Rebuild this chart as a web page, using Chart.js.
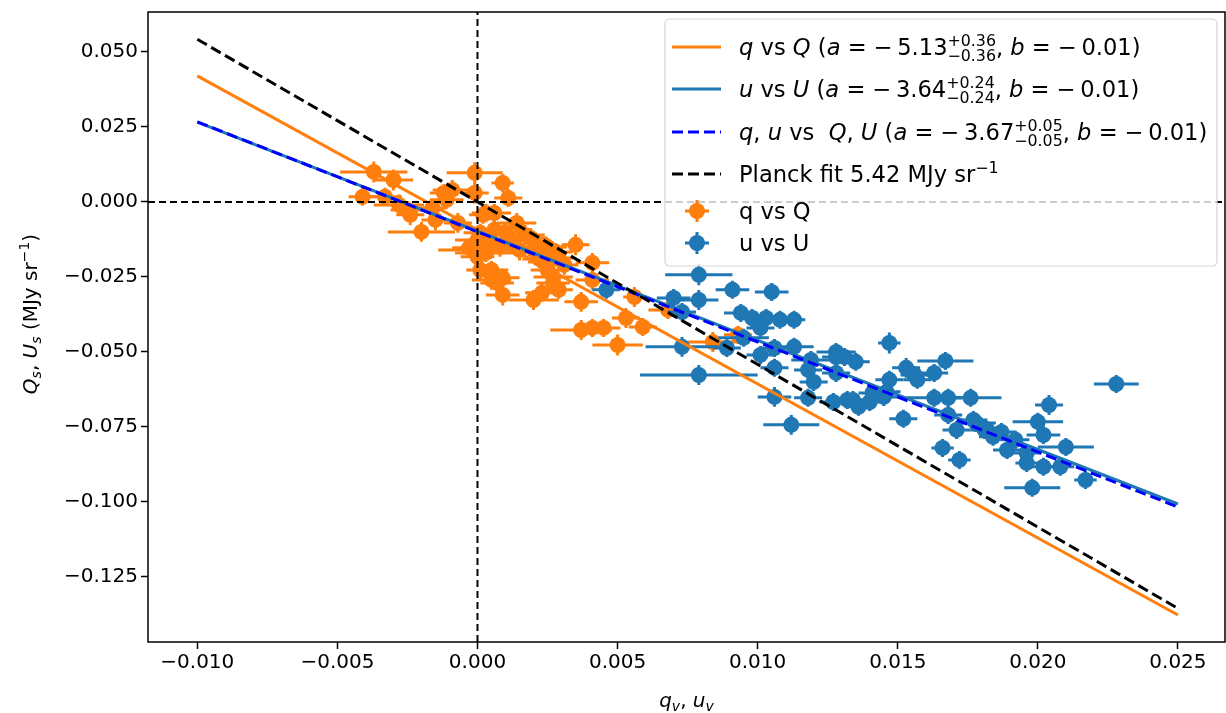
<!DOCTYPE html>
<html><head><meta charset="utf-8">
<script src="https://cdn.jsdelivr.net/npm/chart.js@4.4.1/dist/chart.umd.min.js"></script>
<style>html,body{margin:0;padding:0;background:#fff;overflow:hidden;}#wrap{width:1226px;height:713px;position:relative;}</style>
</head><body><div id="wrap"><canvas id="c"></canvas></div>
<script>
// ---- data: q vs Q (orange) ----
const orangeX = [-0.0037,-0.0030,-0.0041,-0.0033,-0.0028,-0.0025,-0.0024,-0.0020,-0.0016,-0.0015,-0.0009,-0.0011,-0.0007,-0.0001,-0.0001,0.0009,0.0011,0.0003,0.0006,0.0000,0.0003,0.0008,0.0014,0.0015,0.0000,0.0001,0.0006,0.0019,0.0025,0.0028,0.0035,0.0041,0.0005,0.0001,0.0009,0.0020,0.0023,0.0027,0.0027,0.0037,0.0041,0.0037,0.0041,0.0045,0.0050,0.0053,0.0059,0.0056,0.0068,0.0084,0.0093,-0.0012,0.0002,0.0020,0.0022,0.0025,0.0029,0.0007,0.0009,0.0005,0.0000,0.0002,-0.0003,0.0004,0.0010,0.0012,0.0017,0.0022,0.0029,0.0031,0.0024];
const orangeY = [0.0100,0.0073,0.0017,0.0017,-0.0010,-0.0027,-0.0043,-0.0100,-0.0020,-0.0060,0.0040,0.0007,-0.0070,0.0097,0.0030,0.0063,0.0013,-0.0037,-0.0037,-0.0160,-0.0170,-0.0150,-0.0070,-0.0160,-0.0183,-0.0103,-0.0093,-0.0120,-0.0150,-0.0167,-0.0143,-0.0203,-0.0260,-0.0227,-0.0310,-0.0327,-0.0303,-0.0250,-0.0270,-0.0333,-0.0260,-0.0427,-0.0420,-0.0420,-0.0477,-0.0387,-0.0417,-0.0317,-0.0360,-0.0467,-0.0443,0.0030,-0.0043,-0.0160,-0.0150,-0.0227,-0.0293,-0.0270,-0.0253,-0.0227,-0.0127,-0.0143,-0.0153,-0.0127,-0.0100,-0.0127,-0.0110,-0.0190,-0.0187,-0.0210,-0.0200];
const orangeXErr = [0.0012,0.0007,0.0005,0.0006,0.0009,0.0006,0.0005,0.0012,0.0005,0.0005,0.0007,0.0006,0.0005,0.0010,0.0005,0.0004,0.0005,0.0005,0.0006,0.0014,0.0011,0.0007,0.0007,0.0009,0.0006,0.0006,0.0006,0.0006,0.0007,0.0006,0.0005,0.0006,0.0007,0.0005,0.0006,0.0009,0.0006,0.0007,0.0006,0.0006,0.0006,0.0011,0.0006,0.0006,0.0009,0.0005,0.0005,0.0004,0.0007,0.0009,0.0005,0.0005,0.0005,0.0006,0.0006,0.0006,0.0005,0.0006,0.0006,0.0006,0.0008,0.0006,0.0006,0.0007,0.0005,0.0006,0.0007,0.0006,0.0005,0.0005,0.0006];
const orangeYErr = [0.0035,0.0035,0.0030,0.0030,0.0035,0.0030,0.0035,0.0033,0.0030,0.0035,0.0033,0.0030,0.0033,0.0035,0.0035,0.0030,0.0030,0.0030,0.0030,0.0033,0.0030,0.0033,0.0033,0.0035,0.0030,0.0030,0.0030,0.0033,0.0030,0.0030,0.0035,0.0033,0.0033,0.0030,0.0035,0.0033,0.0030,0.0033,0.0030,0.0033,0.0033,0.0033,0.0030,0.0030,0.0035,0.0033,0.0030,0.0033,0.0030,0.0033,0.0030,0.0030,0.0030,0.0030,0.0030,0.0030,0.0030,0.0030,0.0030,0.0030,0.0033,0.0030,0.0030,0.0033,0.0030,0.0030,0.0033,0.0030,0.0030,0.0033,0.0030];
// ---- data: u vs U (blue) ----
const blueX = [0.0046,0.0079,0.0091,0.0105,0.0070,0.0079,0.0073,0.0094,0.0098,0.0103,0.0108,0.0113,0.0101,0.0095,0.0089,0.0073,0.0106,0.0101,0.0113,0.0119,0.0128,0.0106,0.0118,0.0128,0.0079,0.0120,0.0106,0.0118,0.0127,0.0132,0.0112,0.0147,0.0135,0.0131,0.0153,0.0156,0.0157,0.0167,0.0163,0.0147,0.0146,0.0140,0.0145,0.0134,0.0141,0.0152,0.0163,0.0168,0.0176,0.0168,0.0166,0.0172,0.0177,0.0181,0.0184,0.0189,0.0204,0.0200,0.0202,0.0210,0.0196,0.0202,0.0208,0.0217,0.0198,0.0228,0.0196,0.0187,0.0192,0.0171,0.0182,0.0178,0.0128,0.0136];
const blueY = [-0.0293,-0.0243,-0.0293,-0.0300,-0.0320,-0.0327,-0.0367,-0.0370,-0.0387,-0.0387,-0.0393,-0.0393,-0.0420,-0.0453,-0.0487,-0.0483,-0.0487,-0.0510,-0.0483,-0.0527,-0.0500,-0.0553,-0.0560,-0.0570,-0.0577,-0.0600,-0.0650,-0.0653,-0.0667,-0.0660,-0.0743,-0.0470,-0.0533,-0.0517,-0.0553,-0.0577,-0.0593,-0.0530,-0.0570,-0.0593,-0.0633,-0.0667,-0.0650,-0.0660,-0.0637,-0.0723,-0.0653,-0.0653,-0.0653,-0.0710,-0.0820,-0.0860,-0.0727,-0.0760,-0.0783,-0.0827,-0.0677,-0.0733,-0.0777,-0.0817,-0.0870,-0.0883,-0.0883,-0.0927,-0.0953,-0.0607,-0.0837,-0.0767,-0.0793,-0.0760,-0.0760,-0.0737,-0.0517,-0.0683];
const blueXErr = [0.0005,0.0012,0.0006,0.0006,0.0006,0.0007,0.0005,0.0006,0.0005,0.0005,0.0005,0.0004,0.0005,0.0009,0.0005,0.0013,0.0005,0.0005,0.0007,0.0007,0.0007,0.0005,0.0005,0.0005,0.0021,0.0005,0.0006,0.0005,0.0005,0.0006,0.0010,0.0004,0.0005,0.0005,0.0005,0.0005,0.0005,0.0010,0.0005,0.0005,0.0005,0.0005,0.0005,0.0007,0.0005,0.0005,0.0010,0.0005,0.0011,0.0005,0.0004,0.0004,0.0005,0.0005,0.0005,0.0005,0.0005,0.0009,0.0006,0.0010,0.0004,0.0005,0.0005,0.0004,0.0010,0.0008,0.0005,0.0005,0.0005,0.0005,0.0005,0.0007,0.0005,0.0005];
const blueYErr = [0.0030,0.0035,0.0030,0.0030,0.0030,0.0033,0.0030,0.0030,0.0030,0.0030,0.0030,0.0030,0.0030,0.0030,0.0030,0.0033,0.0030,0.0030,0.0030,0.0030,0.0030,0.0030,0.0030,0.0030,0.0033,0.0030,0.0033,0.0030,0.0030,0.0030,0.0033,0.0035,0.0030,0.0030,0.0033,0.0030,0.0030,0.0030,0.0030,0.0030,0.0030,0.0030,0.0030,0.0030,0.0030,0.0030,0.0030,0.0030,0.0030,0.0030,0.0030,0.0030,0.0030,0.0030,0.0030,0.0030,0.0033,0.0030,0.0030,0.0030,0.0030,0.0030,0.0030,0.0030,0.0030,0.0030,0.0030,0.0030,0.0030,0.0030,0.0030,0.0030,0.0030,0.0030];
// ---- fit lines (end points) ----
const fitX = [-0.010, 0.025];
const fitQY = [0.0420, -0.1377];
const fitUY = [0.0266, -0.1007];
const fitQUY = [0.0267, -0.1017];
const planckY = [0.0542, -0.1355];
// ---- axes ----
const xTicks = [-0.010,-0.005,0.000,0.005,0.010,0.015,0.020,0.025];
const yTicks = [0.050,0.025,0.000,-0.025,-0.050,-0.075,-0.100,-0.125];
const xRange = [-0.01176, 0.02668];
const yRange = [-0.1467, 0.0633];

const C_OR = '#ff7f0e', C_BL = '#1f77b4';
const FONT = '"DejaVu Sans", sans-serif';
const pts = (xs, ys) => xs.map((v,i)=>({x:v,y:ys[i]}));
const fmt = v => { const s = Math.abs(v).toFixed(3); return (v < -1e-9 ? '\u2212' : '') + s; };

const errs = {
  6: {xe: blueXErr, ye: blueYErr, c: C_BL},
  7: {xe: orangeXErr, ye: orangeYErr, c: C_OR}
};

const errPlugin = {
  id: 'errbars',
  beforeDatasetDraw(chart, args) {
    const e = errs[args.index]; if (!e) return;
    const ctx = chart.ctx, xs = chart.scales.x, ys = chart.scales.y, a = chart.chartArea;
    const data = chart.data.datasets[args.index].data;
    ctx.save();
    ctx.beginPath(); ctx.rect(a.left, a.top, a.right-a.left, a.bottom-a.top); ctx.clip();
    ctx.strokeStyle = e.c; ctx.lineWidth = 3; ctx.lineCap = 'butt';
    data.forEach((p,i) => {
      const px = xs.getPixelForValue(p.x), py = ys.getPixelForValue(p.y);
      const x0 = xs.getPixelForValue(p.x - e.xe[i]), x1 = xs.getPixelForValue(p.x + e.xe[i]);
      const y0 = ys.getPixelForValue(p.y - e.ye[i]), y1 = ys.getPixelForValue(p.y + e.ye[i]);
      ctx.beginPath(); ctx.moveTo(x0, py); ctx.lineTo(x1, py); ctx.moveTo(px, y0); ctx.lineTo(px, y1); ctx.stroke();
    });
    ctx.restore();
  }
};

function drawRich(ctx, x, y, segs, size, measureOnly) {
  let cx = x;
  for (const s of segs) {
    if (s.stack) {
      const fs = size*0.7;
      ctx.font = fs + 'px ' + FONT;
      const w = Math.max(ctx.measureText(s.stack[0]).width, ctx.measureText(s.stack[1]).width);
      if (!measureOnly) { ctx.fillText(s.stack[0], cx, y - size*0.40); ctx.fillText(s.stack[1], cx, y + size*0.26); }
      cx += w;
    } else if (s.sup || s.sub) {
      const fs = size*0.7;
      ctx.font = (s.it ? 'italic ' : '') + fs + 'px ' + FONT;
      const t = s.sup || s.sub;
      if (!measureOnly) ctx.fillText(t, cx, s.sup ? y - size*0.40 : y + size*0.22);
      cx += ctx.measureText(t).width;
    } else {
      ctx.font = (s.it ? 'italic ' : '') + size + 'px ' + FONT;
      if (!measureOnly) ctx.fillText(s.t, cx, y);
      cx += ctx.measureText(s.t).width;
    }
  }
  return cx - x;
}

const legendRows = [
  {type:'line', color:C_OR, dash:[], segs:[{t:'q',it:1},{t:' vs '},{t:'Q',it:1},{t:' ('},{t:'a',it:1},{t:' = \u2212\u20095.13'},{stack:['+0.36','\u22120.36']},{t:', '},{t:'b',it:1},{t:' = \u2212\u20090.01)'}]},
  {type:'line', color:C_BL, dash:[], segs:[{t:'u',it:1},{t:' vs '},{t:'U',it:1},{t:' ('},{t:'a',it:1},{t:' = \u2212\u20093.64'},{stack:['+0.24','\u22120.24']},{t:', '},{t:'b',it:1},{t:' = \u2212\u20090.01)'}]},
  {type:'line', color:'#0000ff', dash:[11,5], segs:[{t:'q',it:1},{t:', '},{t:'u',it:1},{t:' vs  '},{t:'Q',it:1},{t:', '},{t:'U',it:1},{t:' ('},{t:'a',it:1},{t:' = \u2212\u20093.67'},{stack:['+0.05','\u22120.05']},{t:', '},{t:'b',it:1},{t:' = \u2212\u20090.01)'}]},
  {type:'line', color:'#000000', dash:[11,5], segs:[{t:'Planck fit 5.42 MJy sr'},{sup:'\u22121'}]},
  {type:'err', color:C_OR, segs:[{t:'q vs Q'}]},
  {type:'err', color:C_BL, segs:[{t:'u vs U'}]}
];
const legendRowY = [47, 89, 132, 174, 211, 243];

const decoPlugin = {
  id: 'deco',
  afterDraw(chart) {
    const ctx = chart.ctx, a = chart.chartArea;
    ctx.save();
    ctx.strokeStyle = '#000'; ctx.lineWidth = 1.5;
    ctx.strokeRect(a.left, a.top, a.right - a.left, a.bottom - a.top);
    const lx = 665, ly = 19, lw = 552, lh = 247, r = 5;
    ctx.beginPath();
    ctx.moveTo(lx + r, ly); ctx.lineTo(lx + lw - r, ly); ctx.quadraticCurveTo(lx + lw, ly, lx + lw, ly + r);
    ctx.lineTo(lx + lw, ly + lh - r); ctx.quadraticCurveTo(lx + lw, ly + lh, lx + lw - r, ly + lh);
    ctx.lineTo(lx + r, ly + lh); ctx.quadraticCurveTo(lx, ly + lh, lx, ly + lh - r);
    ctx.lineTo(lx, ly + r); ctx.quadraticCurveTo(lx, ly, lx + r, ly); ctx.closePath();
    ctx.fillStyle = 'rgba(255,255,255,0.8)'; ctx.fill();
    ctx.strokeStyle = 'rgba(204,204,204,0.8)'; ctx.lineWidth = 1.2; ctx.stroke();
    ctx.fillStyle = '#000'; ctx.textBaseline = 'alphabetic'; ctx.textAlign = 'left';
    legendRows.forEach((row, i) => {
      const cy = legendRowY[i];
      if (row.type === 'line') {
        ctx.strokeStyle = row.color; ctx.lineWidth = 3; ctx.setLineDash(row.dash);
        ctx.beginPath(); ctx.moveTo(672, cy); ctx.lineTo(721, cy); ctx.stroke(); ctx.setLineDash([]);
      } else {
        ctx.strokeStyle = row.color; ctx.lineWidth = 3;
        ctx.beginPath(); ctx.moveTo(685, cy); ctx.lineTo(709, cy); ctx.moveTo(697, cy - 11); ctx.lineTo(697, cy + 11); ctx.stroke();
        ctx.fillStyle = row.color; ctx.beginPath(); ctx.arc(697, cy, 8, 0, Math.PI*2); ctx.fill();
      }
      ctx.fillStyle = '#000';
      drawRich(ctx, 739, cy + 8, row.segs, 22.6);
    });
    const xt = [{t:'q',it:1},{sub:'v',it:1},{t:', '},{t:'u',it:1},{sub:'v',it:1}];
    const xw = drawRich(ctx, 0, 0, xt, 20, true);
    drawRich(ctx, (a.left + a.right)/2 - xw/2, 707, xt, 20);
    const yt = [{t:'Q',it:1},{sub:'s',it:1},{t:', '},{t:'U',it:1},{sub:'s',it:1},{t:' (MJy sr'},{sup:'\u22121'},{t:')'}];
    const yw = drawRich(ctx, 0, 0, yt, 20, true);
    ctx.translate(30, 314); ctx.rotate(-Math.PI/2);
    drawRich(ctx, -yw/2, 7, yt, 20);
    ctx.restore();
  }
};

const lineDs = (label, ys, color, width, dash) => ({
  type: 'scatter', label, data: pts(fitX, ys), showLine: true, borderColor: color, borderWidth: width,
  borderDash: dash, pointRadius: 0, fill: false
});
const noPad = s => { s.paddingLeft = 0; s.paddingRight = 0; s.paddingTop = 0; s.paddingBottom = 0; };

new Chart(document.getElementById('c'), {
  type: 'scatter',
  data: {
    datasets: [
      {type:'scatter', label:'h0', data: pts(xRange, [0,0]), showLine:true, borderColor:'#000', borderWidth:2, borderDash:[7,4], pointRadius:0},
      {type:'scatter', label:'v0', data: pts([0,0], yRange), showLine:true, borderColor:'#000', borderWidth:2, borderDash:[7,4], pointRadius:0},
      lineDs('Planck fit', planckY, '#000000', 3, [11,5]),
      lineDs('q,u vs Q,U', fitQUY, '#0000ff', 3, [11,5]),
      lineDs('u vs U fit', fitUY, C_BL, 3, []),
      lineDs('q vs Q fit', fitQY, C_OR, 3, []),
      {type:'scatter', label:'u vs U', data: pts(blueX, blueY), backgroundColor: C_BL, borderWidth:0, pointRadius:8},
      {type:'scatter', label:'q vs Q', data: pts(orangeX, orangeY), backgroundColor: C_OR, borderWidth:0, pointRadius:8}
    ]
  },
  options: {
    responsive: true, maintainAspectRatio: false, animation: false,
    layout: {autoPadding: false, padding: {left: 0, right: 1, top: 12, bottom: 0}},
    plugins: {legend: {display: false}, tooltip: {enabled: false}},
    scales: {
      x: {
        type: 'linear', min: xRange[0], max: xRange[1],
        afterBuildTicks: s => { s.ticks = xTicks.map(v => ({value: v})); },
        afterFit: s => { s.height = 71; noPad(s); },
        grid: {drawOnChartArea: false, drawTicks: true, tickLength: 7, tickColor: '#000', tickWidth: 1.5},
        border: {display: false},
        ticks: {color: '#000', font: {family: FONT, size: 20}, padding: 2, maxRotation: 0, autoSkip: false, callback: v => fmt(v)}
      },
      y: {
        type: 'linear', min: yRange[0], max: yRange[1],
        afterBuildTicks: s => { s.ticks = yTicks.map(v => ({value: v})); },
        afterFit: s => { s.width = 148; noPad(s); },
        grid: {drawOnChartArea: false, drawTicks: true, tickLength: 7, tickColor: '#000', tickWidth: 1.5},
        border: {display: false},
        ticks: {color: '#000', font: {family: FONT, size: 20}, padding: 3, autoSkip: false, callback: v => fmt(v)}
      }
    }
  },
  plugins: [errPlugin, decoPlugin]
});
</script></body></html>
